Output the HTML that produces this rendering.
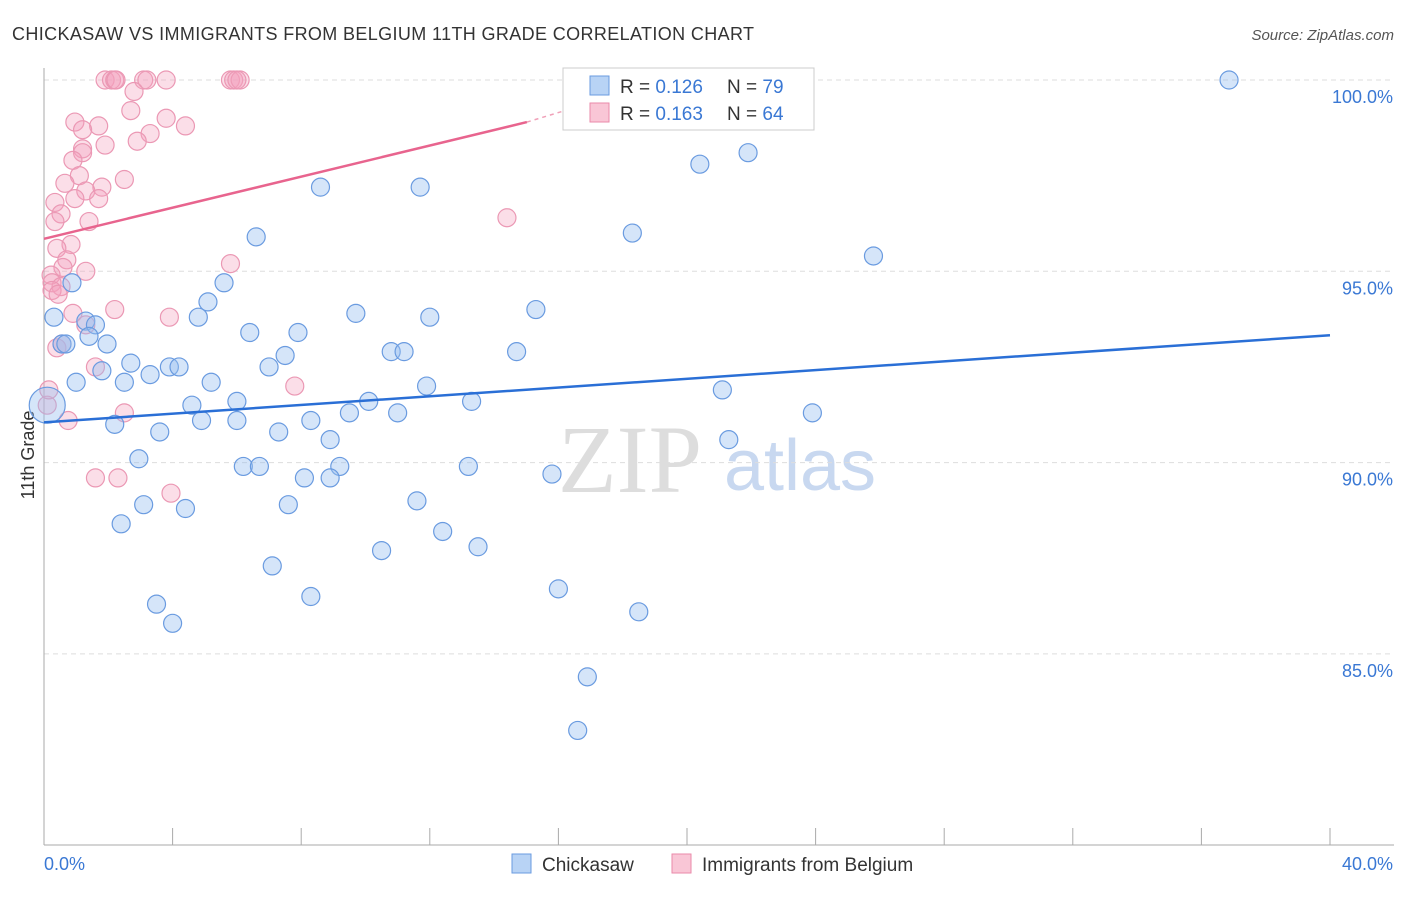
<!DOCTYPE html>
<html><head><meta charset="utf-8"><style>
body{margin:0;background:#fff;font-family:"Liberation Sans",sans-serif}
svg text{font-family:"Liberation Sans",sans-serif}
</style></head><body>
<svg id="c" width="1406" height="892">
<text x="12" y="40" font-size="18" fill="#333" textLength="742">CHICKASAW VS IMMIGRANTS FROM BELGIUM 11TH GRADE CORRELATION CHART</text>
<text x="1394" y="40" font-size="15" fill="#555" font-style="italic" text-anchor="end">Source: ZipAtlas.com</text>
<text x="34" y="455" font-size="18" fill="#333" transform="rotate(-90 34 455)" text-anchor="middle">11th Grade</text>
<text x="630" y="492" font-size="96" fill="#ddd" text-anchor="middle" style="font-family:'Liberation Serif',serif">ZIP</text>
<text x="800" y="490" font-size="72" fill="#c8d8f0" text-anchor="middle">atlas</text>
<g id="grid"></g><g id="pts"></g><g id="lines"></g>
<g>
<rect x="563" y="68" width="251" height="62" fill="#fff" stroke="#ccc"/>
<rect x="590" y="76" width="19" height="19" fill="#b8d3f5" stroke="#6a9be0"/>
<rect x="590" y="103" width="19" height="19" fill="#f9c6d6" stroke="#ea8aaa"/>
<text x="620" y="93" font-size="19" fill="#333">R = <tspan fill="#3a78d4">0.126</tspan></text>
<text x="727" y="93" font-size="19" fill="#333">N = <tspan fill="#3a78d4">79</tspan></text>
<text x="620" y="120" font-size="19" fill="#333">R = <tspan fill="#3a78d4">0.163</tspan></text>
<text x="727" y="120" font-size="19" fill="#333">N = <tspan fill="#3a78d4">64</tspan></text>
</g>
<g>
<rect x="512" y="854" width="19" height="19" fill="#b8d3f5" stroke="#6a9be0"/>
<text x="542" y="871" font-size="19" fill="#333">Chickasaw</text>
<rect x="672" y="854" width="19" height="19" fill="#f9c6d6" stroke="#ea8aaa"/>
<text x="702" y="871" font-size="19" fill="#333">Immigrants from Belgium</text>
</g>
</svg>
<script>
const yTicks=[100,95,90,85];
const xTickLabels=["0.0%","40.0%"];
const blueX=[36.86,21.9,20.4,8.6,11.7,18.3,6.6,25.8,5.6,0.87,5.1,4.8,0.31,1.3,1.6,9.7,12.0,15.3,6.4,7.9,1.4,0.56,0.68,1.96,10.8,11.2,14.7,7.5,2.7,7.0,1.8,3.9,4.2,3.3,1.0,5.2,2.5,11.9,21.1,10.1,13.3,4.6,6.0,9.5,11.0,23.9,6.0,4.9,8.3,2.2,7.3,3.6,8.9,21.3,2.95,6.2,6.7,9.2,13.2,15.8,8.1,8.9,11.6,7.6,3.1,4.4,2.4,12.4,10.5,13.5,7.1,16.0,8.3,3.5,18.5,4.0,16.9,16.6,0.1];
const blueY=[100,98.1,97.8,97.2,97.2,96.0,95.9,95.4,94.7,94.7,94.2,93.8,93.8,93.7,93.6,93.9,93.8,94.0,93.4,93.4,93.3,93.1,93.1,93.1,92.9,92.9,92.9,92.8,92.6,92.5,92.4,92.5,92.5,92.3,92.1,92.1,92.1,92.0,91.9,91.6,91.6,91.5,91.6,91.3,91.3,91.3,91.1,91.1,91.1,91.0,90.8,90.8,90.6,90.6,90.1,89.9,89.9,89.9,89.9,89.7,89.6,89.6,89.0,88.9,88.9,88.8,88.4,88.2,87.7,87.8,87.3,86.7,86.5,86.3,86.1,85.8,84.4,83.0,91.5];
const pinkX=[1.9,2.1,2.2,3.1,3.2,3.8,5.8,5.9,6.1,2.8,2.7,3.8,0.96,1.7,4.4,1.2,3.3,2.9,1.2,1.9,1.2,0.9,1.1,2.5,0.65,1.8,1.3,0.96,0.34,1.7,0.53,1.4,0.34,0.84,0.4,0.71,5.8,0.59,1.3,0.22,0.25,0.53,0.25,0.44,2.2,3.9,0.9,1.3,0.4,0.56,1.6,7.8,14.4,2.5,0.75,1.6,2.3,3.95,0.1,0.15,2.24,6.0];
const pinkY=[100,100,100,100,100,100,100,100,100,99.7,99.2,99.0,98.9,98.8,98.8,98.7,98.6,98.4,98.2,98.3,98.1,97.9,97.5,97.4,97.3,97.2,97.1,96.9,96.8,96.9,96.5,96.3,96.3,95.7,95.6,95.3,95.2,95.1,95.0,94.9,94.7,94.6,94.5,94.4,94.0,93.8,93.9,93.6,93.0,93.1,92.5,92.0,96.4,91.3,91.1,89.6,89.6,89.2,91.5,91.9,100,100];
const blueTrend=[[0,91.05],[40,93.33]];
const pinkTrend=[[0,95.85],[15.02,98.9]];
const pinkDash=[[15.02,98.9],[16.2,99.2]];
const sx=v=>44+v/40*1286, sy=v=>80+(100-v)*38.26;
const NS="http://www.w3.org/2000/svg";
function mk(t,a,p){const e=document.createElementNS(NS,t);for(const k in a)e.setAttribute(k,a[k]);p.appendChild(e);return e;}
const g=document.getElementById('grid');
yTicks.forEach(v=>{
 const l=mk('line',{x1:44,x2:1394,y1:sy(v),y2:sy(v),stroke:'#ddd','stroke-dasharray':'5,4'},g);
 
 
 const t=mk('text',{x:1393,y:sy(v)+23,'font-size':18,fill:'#3a78d4','text-anchor':'end'},g);t.textContent=v.toFixed(1)+'%';
 
 
});
mk('line',{x1:44,x2:44,y1:68,y2:845,stroke:'#aaa'},g);
mk('line',{x1:44,x2:1394,y1:845,y2:845,stroke:'#aaa'},g);
for(let i=0;i<=10;i++){const x=sx(i*4);mk('line',{x1:x,x2:x,y1:828,y2:845,stroke:'#aaa'},g);}
xTickLabels.forEach((s,i)=>{const t=mk('text',{x:i?1393:44,y:870,'font-size':18,fill:'#3a78d4','text-anchor':i?'end':'start'},g);t.textContent=s;
 
 });
const p=document.getElementById('pts');
pinkX.forEach((x,i)=>{const c=mk('circle',{cx:sx(x),cy:sy(pinkY[i]),r:9,fill:'rgba(244,160,190,0.35)',stroke:'#eb98b4','stroke-width':1.2},p);
 
 });
blueX.forEach((x,i)=>{const c=mk('circle',{cx:sx(x),cy:sy(blueY[i]),r:i==blueX.length-1?18:9,fill:'rgba(150,190,240,0.4)',stroke:'#6a9be0','stroke-width':1.2},p);
 
 });
const L=document.getElementById('lines');
const b=mk('line',{x1:sx(blueTrend[0][0]),y1:sy(blueTrend[0][1]),x2:sx(blueTrend[1][0]),y2:sy(blueTrend[1][1]),stroke:'#2a6fd6','stroke-width':2.5},L);


const pk=mk('line',{x1:sx(pinkTrend[0][0]),y1:sy(pinkTrend[0][1]),x2:sx(pinkTrend[1][0]),y2:sy(pinkTrend[1][1]),stroke:'#e8648e','stroke-width':2.5},L);


mk('line',{x1:sx(pinkDash[0][0]),y1:sy(pinkDash[0][1]),x2:sx(pinkDash[1][0]),y2:sy(pinkDash[1][1]),stroke:'#f0a0b8','stroke-width':1.5,'stroke-dasharray':'4,4'},L);
</script>
</body></html>
